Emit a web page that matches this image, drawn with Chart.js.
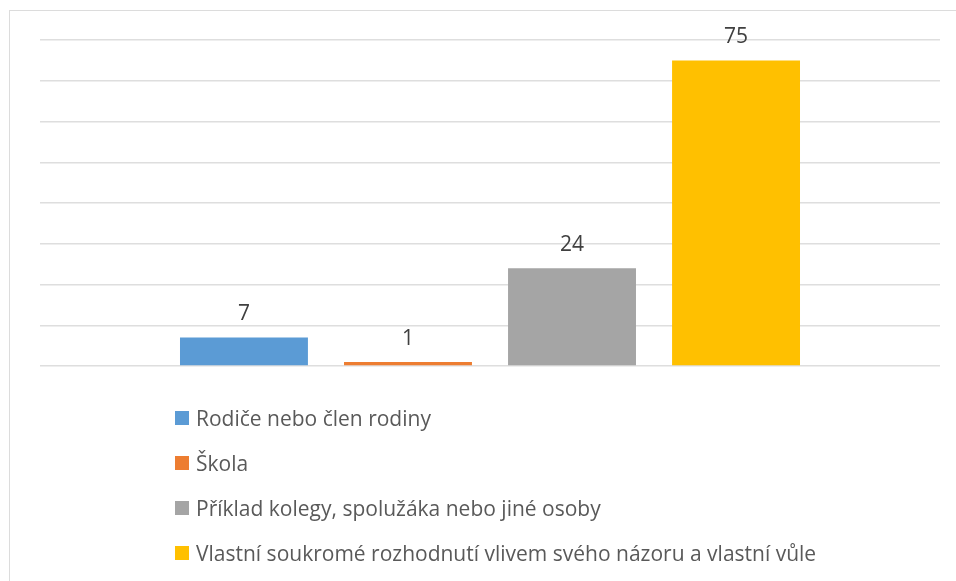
<!DOCTYPE html>
<html>
<head>
<meta charset="utf-8">
<script src="https://cdn.jsdelivr.net/npm/chart.js@4"></script>
<style>
  body { margin: 0; background: #fff; }
  #wrap { position: relative; width: 956px; height: 581px; overflow: hidden; }
  #frame { position: absolute; left: 9px; top: 10px; width: 1000px; height: 700px; border: 1.5px solid #dcdcdc; }
  #legend { position: absolute; left: 175px; top: 0; font-family: "Open Sans", sans-serif; font-size: 21px; color: #595959; }
  .item { position: absolute; white-space: nowrap; display: flex; align-items: center; }
  .sw { width: 14px; height: 14px; margin-right: 7px; }
</style>
</head>
<body>
<div id="wrap">
  <div id="frame"></div>
  <canvas id="chart" width="956" height="581" style="position:absolute;left:0;top:0"></canvas>
  <div id="legend"></div>
</div>
<script>
const seriesNames = [
    "Rodiče nebo člen rodiny",
    "Škola",
    "Příklad kolegy, spolužáka nebo jiné osoby",
    "Vlastní soukromé rozhodnutí vlivem svého názoru a vlastní vůle"
];
const seriesValues = [7, 1, 24, 75];
const seriesColors = ["#5b9bd5", "#ed7d31", "#a5a5a5", "#ffc000"];
const categories = [""];

// value labels above each bar
const valueLabels = {
    id: "valueLabels",
    afterDatasetsDraw(chart) {
        const ctx = chart.ctx;
        ctx.save();
        ctx.font = "21px 'Open Sans', sans-serif";
        ctx.fillStyle = "#404040";
        ctx.textAlign = "center";
        ctx.textBaseline = "alphabetic";
        chart.data.datasets.forEach((ds, i) => {
            const bar = chart.getDatasetMeta(i).data[0];
            ctx.fillText(String(ds.data[0]), bar.x, bar.y - 17);
        });
        ctx.restore();
    }
};

const ctx = document.getElementById("chart").getContext("2d");
new Chart(ctx, {
    type: "bar",
    data: {
        labels: categories,
        datasets: seriesNames.map((name, i) => ({
            label: name,
            data: [seriesValues[i]],
            backgroundColor: seriesColors[i],
            categoryPercentage: 0.729,
            barPercentage: 0.78
        }))
    },
    options: {
        responsive: false,
        animation: false,
        layout: { padding: { left: 40, right: 16, top: 40, bottom: 215 } },
        scales: {
            x: { display: false },
            y: {
                min: 0,
                max: 80,
                ticks: { display: false, stepSize: 10 },
                border: { display: false },
                grid: { color: "#dedede", lineWidth: 1.5, drawTicks: false }
            }
        },
        plugins: {
            legend: { display: false },
            tooltip: { enabled: false }
        }
    },
    plugins: [valueLabels]
});

const legendEl = document.getElementById("legend");
const legendTops = [418, 463, 508, 553];
seriesNames.forEach((name, i) => {
    const item = document.createElement("div");
    item.className = "item";
    item.style.top = (legendTops[i] - 14) + "px";
    item.style.height = "28px";
    item.innerHTML = '<span class="sw" style="background:' + seriesColors[i] + '"></span><span>' + name + '</span>';
    legendEl.appendChild(item);
});
</script>
</body>
</html>
